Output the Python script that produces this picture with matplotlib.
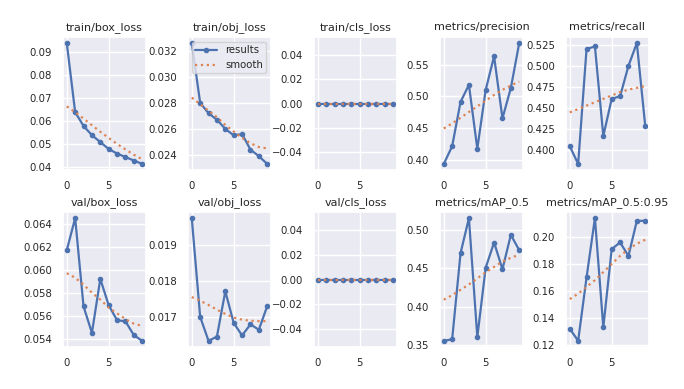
import matplotlib
matplotlib.use('Agg')
import matplotlib.pyplot as plt
from matplotlib.ticker import MultipleLocator, FormatStrFormatter
import seaborn as sns

sns.set_theme(style='darkgrid')
plt.rcParams['font.family'] = ['DejaVu Sans']

epochs = list(range(10))

titles = ['train/box_loss', 'train/obj_loss', 'train/cls_loss', 'metrics/precision', 'metrics/recall',
          'val/box_loss', 'val/obj_loss', 'val/cls_loss', 'metrics/mAP_0.5', 'metrics/mAP_0.5:0.95']

train_box = [0.094, 0.064, 0.058, 0.054, 0.051, 0.048, 0.046, 0.0445, 0.043, 0.0415]
train_box_s = [0.0665, 0.0640, 0.0612, 0.0583, 0.0555, 0.0528, 0.0502, 0.0478, 0.0455, 0.0435]
train_obj = [0.0326, 0.0280, 0.0272, 0.0267, 0.0260, 0.0255, 0.0256, 0.0244, 0.0239, 0.0233]
train_obj_s = [0.0284, 0.0279, 0.0274, 0.0269, 0.0263, 0.0258, 0.0253, 0.0249, 0.0246, 0.0245]
train_cls = [0.0] * 10
train_cls_s = [0.0] * 10
precision = [0.393, 0.421, 0.491, 0.518, 0.417, 0.510, 0.563, 0.465, 0.513, 0.584]
precision_s = [0.449, 0.457, 0.466, 0.475, 0.484, 0.493, 0.502, 0.510, 0.517, 0.523]
recall = [0.405, 0.384, 0.520, 0.523, 0.417, 0.461, 0.464, 0.500, 0.527, 0.429]
recall_s = [0.445, 0.449, 0.453, 0.457, 0.461, 0.465, 0.469, 0.472, 0.474, 0.476]
val_box = [0.0617, 0.0645, 0.0568, 0.0545, 0.0592, 0.0569, 0.0556, 0.0555, 0.0543, 0.0538]
val_box_s = [0.0597, 0.0593, 0.0587, 0.0580, 0.0574, 0.0567, 0.0562, 0.0557, 0.0553, 0.0551]
val_obj = [0.01975, 0.0170, 0.01633, 0.01645, 0.01771, 0.01683, 0.01648, 0.01679, 0.01664, 0.01730]
val_obj_s = [0.01755, 0.01745, 0.01733, 0.01720, 0.01708, 0.01698, 0.01692, 0.01689, 0.01688, 0.01688]
val_cls = [0.0] * 10
val_cls_s = [0.0] * 10
map50 = [0.355, 0.357, 0.470, 0.516, 0.360, 0.451, 0.484, 0.449, 0.494, 0.474]
map50_s = [0.409, 0.415, 0.422, 0.429, 0.437, 0.445, 0.452, 0.459, 0.464, 0.468]
map5095 = [0.132, 0.123, 0.170, 0.214, 0.133, 0.191, 0.196, 0.186, 0.212, 0.212]
map5095_s = [0.154, 0.158, 0.163, 0.168, 0.174, 0.180, 0.186, 0.191, 0.195, 0.198]

results = [train_box, train_obj, train_cls, precision, recall,
           val_box, val_obj, val_cls, map50, map5095]
smooth = [train_box_s, train_obj_s, train_cls_s, precision_s, recall_s,
          val_box_s, val_obj_s, val_cls_s, map50_s, map5095_s]

W, H = 684, 389
fig = plt.figure(figsize=(W / 100, H / 100), dpi=100)
fig.patch.set_facecolor('white')

lefts = [63, 188, 314, 440, 566]
rows = [(37, 170), (212, 347)]
blue = '#4c72b0'
orange = '#dd8452'

for i, (title, y, ys) in enumerate(zip(titles, results, smooth)):
    r, c = divmod(i, 5)
    top, bot = rows[r]
    ax = fig.add_axes([lefts[c] / W, 1 - bot / H, 83 / W, (bot - top) / H])
    ax.plot(epochs, y, marker='.', color=blue, linewidth=1.6, markersize=6, label='results')
    ax.plot(epochs, ys, ':', color=orange, linewidth=1.6, label='smooth')
    ax.set_title(title, fontsize=8, pad=5)
    ax.tick_params(labelsize=7.3, pad=2)
    if title == 'metrics/recall':
        ax.yaxis.set_major_locator(MultipleLocator(0.025))
        ax.yaxis.set_major_formatter(FormatStrFormatter('%.3f'))
    if i == 1:
        ax.legend(fontsize=7.3, loc='upper right', borderpad=0.3, handlelength=2.2)

fig.savefig('out.png', dpi=100)
